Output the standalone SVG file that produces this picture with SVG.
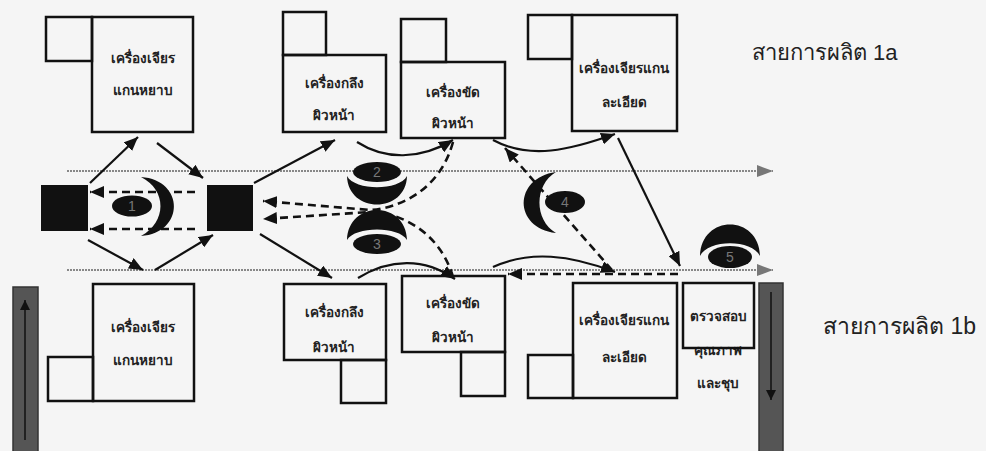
<svg xmlns="http://www.w3.org/2000/svg" width="986" height="451" viewBox="0 0 986 451">
<style>
.box{fill:none;stroke:#111;stroke-width:2.5}
.t{font-family:"Noto Sans","DejaVu Sans",sans-serif;font-size:13.5px;font-weight:bold;fill:#222;text-anchor:middle;dominant-baseline:central}
.lbl{font-family:"Liberation Sans","Noto Sans","DejaVu Sans",sans-serif;font-size:22px;fill:#222;dominant-baseline:central}
.sol{fill:none;stroke:#111;stroke-width:2.2;marker-end:url(#ah)}
.dsh{fill:none;stroke:#111;stroke-width:2.6;stroke-dasharray:8 5;marker-end:url(#ah)}
.dot{fill:none;stroke:#888;stroke-width:2;stroke-dasharray:2 1;marker-end:url(#gh)}
.blk{fill:#111}
.num{font-family:"Liberation Sans",sans-serif;font-size:14px;fill:#777;text-anchor:middle;dominant-baseline:central}
.bar{fill:#555;stroke:#333;stroke-width:1.5}
</style>
<defs>
<marker id="ah" markerUnits="userSpaceOnUse" markerWidth="14" markerHeight="12" refX="14" refY="6" orient="auto"><path d="M0,0 L14,6 L0,12 z" fill="#111"/></marker>
<marker id="gh" markerUnits="userSpaceOnUse" markerWidth="16" markerHeight="12" refX="16" refY="6" orient="auto"><path d="M0,0 L16,6 L0,12 z" fill="#777"/></marker>
<marker id="bh" markerUnits="userSpaceOnUse" markerWidth="10" markerHeight="10" refX="10" refY="5" orient="auto"><path d="M0,0 L10,5 L0,10 z" fill="#111"/></marker>
</defs>
<rect width="986" height="451" fill="#f5f5f5"/>

<g id="line-labels">
<text class="lbl" x="752" y="52">สายการผลิต 1a</text>
<text class="lbl" x="823" y="326" style="font-size:23px">สายการผลิต 1b</text>
</g>

<g id="conveyor-left">
<rect class="bar" x="13" y="287" width="25" height="170"/>
<line x1="25" y1="440" x2="25" y2="300" stroke="#111" stroke-width="1.5" marker-end="url(#bh)"/>
</g>
<g id="conveyor-right">
<rect class="bar" x="759" y="283" width="24" height="174"/>
<line x1="771" y1="292" x2="771" y2="400" stroke="#111" stroke-width="1.5" marker-end="url(#bh)"/>
</g>

<g id="connectors">
<path class="dot" d="M67,171 L773,171"/>
<path class="dot" d="M67,270 L773,270"/>
<path class="sol" d="M90,183 L138,137"/>
<path class="sol" d="M157,143 L203,178"/>
<path class="sol" d="M88,240 L143,270"/>
<path class="sol" d="M155,270 L213,235"/>
<path class="sol" d="M254,183 L335,140"/>
<path class="sol" d="M260,234 L332,278"/>
<path class="sol" d="M357,142 C385,160 420,160 453,140"/>
<path class="sol" d="M358,278 C390,258 425,258 455,279"/>
<path class="sol" d="M493,140 C530,160 570,150 615,134"/>
<path class="sol" d="M618,138 L680,266"/>
<path class="sol" d="M493,267 C530,250 570,255 615,272"/>
<path class="dsh" d="M195,192 L90,192"/>
<path class="dsh" d="M195,229 L90,229"/>
<path class="dsh" d="M453,142 C440,190 400,208 370,210 L263,201"/>
<path class="dsh" d="M453,277 C440,232 400,212 370,212 L263,219"/>
<path class="dsh" d="M612,270 L505,148"/>
<path class="dsh" d="M678,274 L508,274"/>
</g>

<g id="transfer-1">
<rect class="blk" x="41" y="185" width="47" height="46"/>
</g>
<g id="transfer-2">
<rect class="blk" x="207" y="185" width="46" height="46"/>
</g>

<g id="operator-1">
<path class="blk" d="M141,177 C185,180 185,233 141,236 C167,222 167,190 141,177 Z"/>
<ellipse class="blk" cx="132" cy="206" rx="20" ry="10.5"/>
<text class="num" x="132" y="206">1</text>
</g>
<g id="operator-2">
<ellipse class="blk" cx="377" cy="172" rx="24" ry="10"/>
<path class="blk" d="M347,176 C348,214 406,214 407,176 C399,191 355,191 347,176 Z"/>
<text class="num" x="377" y="172">2</text>
</g>
<g id="operator-3">
<path class="blk" d="M347,240 C348,200 406,200 407,240 C399,226 355,226 347,240 Z"/>
<ellipse class="blk" cx="377" cy="244" rx="24" ry="10"/>
<text class="num" x="377" y="244">3</text>
</g>
<g id="operator-4">
<path class="blk" d="M556,172 C513,178 513,228 556,233 C534,220 534,185 556,172 Z"/>
<ellipse class="blk" cx="565" cy="202" rx="20" ry="11"/>
<text class="num" x="565" y="202">4</text>
</g>
<g id="operator-5">
<path class="blk" d="M700,256 C701,214 759,214 760,256 C752,239 708,239 700,256 Z"/>
<ellipse class="blk" cx="730" cy="257" rx="22" ry="11"/>
<text class="num" x="730" y="257">5</text>
</g>

<g id="m1a-rough">
<rect class="box" x="46" y="17" width="46" height="44"/>
<rect class="box" x="92" y="17" width="101" height="115"/>
<text class="t" x="143" y="58">เครื่องเจียร</text>
<text class="t" x="143" y="90">แกนหยาบ</text>
</g>
<g id="m1a-lathe">
<rect class="box" x="283" y="12" width="43" height="43"/>
<rect class="box" x="283" y="55" width="103" height="77"/>
<text class="t" x="334" y="83">เครื่องกลึง</text>
<text class="t" x="334" y="115">ผิวหน้า</text>
</g>
<g id="m1a-polish">
<rect class="box" x="401" y="19" width="45" height="43"/>
<rect class="box" x="401" y="62" width="104" height="76"/>
<text class="t" x="453" y="92">เครื่องขัด</text>
<text class="t" x="453" y="123">ผิวหน้า</text>
</g>
<g id="m1a-fine">
<rect class="box" x="528" y="15" width="44" height="44"/>
<rect class="box" x="572" y="15" width="105" height="116"/>
<text class="t" x="624" y="68">เครื่องเจียรแกน</text>
<text class="t" x="624" y="102">ละเอียด</text>
</g>

<g id="m1b-rough">
<rect class="box" x="48" y="357" width="45" height="44"/>
<rect class="box" x="93" y="284" width="101" height="117"/>
<text class="t" x="143" y="327">เครื่องเจียร</text>
<text class="t" x="143" y="360">แกนหยาบ</text>
</g>
<g id="m1b-lathe">
<rect class="box" x="341" y="360" width="45" height="43"/>
<rect class="box" x="284" y="284" width="102" height="76"/>
<text class="t" x="334" y="312">เครื่องกลึง</text>
<text class="t" x="334" y="347">ผิวหน้า</text>
</g>
<g id="m1b-polish">
<rect class="box" x="461" y="352" width="44" height="44"/>
<rect class="box" x="402" y="276" width="103" height="76"/>
<text class="t" x="453" y="303">เครื่องขัด</text>
<text class="t" x="453" y="337">ผิวหน้า</text>
</g>
<g id="m1b-fine">
<rect class="box" x="528" y="355" width="45" height="43"/>
<rect class="box" x="573" y="283" width="104" height="115"/>
<text class="t" x="624" y="320">เครื่องเจียรแกน</text>
<text class="t" x="624" y="357">ละเอียด</text>
</g>
<g id="m1b-inspect">
<text class="t" x="718" y="316">ตรวจสอบ</text>
<text class="t" x="718" y="350">คุณภาพ</text>
<text class="t" x="718" y="383">และชุบ</text>
<rect class="box" x="683" y="283" width="71" height="65"/>
</g>
</svg>
